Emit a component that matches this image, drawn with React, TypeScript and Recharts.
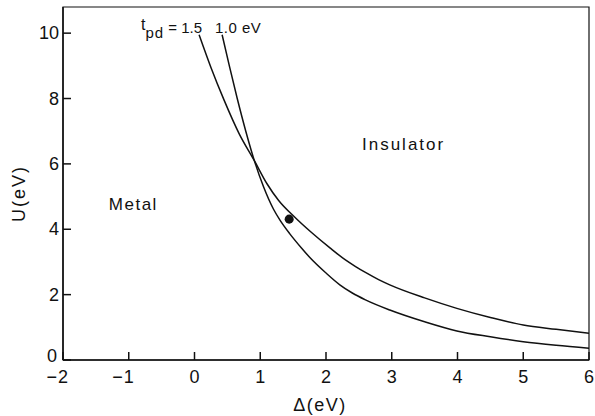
import { ComposedChart, Line, Scatter, XAxis, YAxis, ReferenceDot, ReferenceArea, Label } from "recharts";

// phase boundary U(Δ) for two hopping values, eV
const tpd15 = [
  { d: 0.07, u: 9.95 }, { d: 0.25, u: 8.95 }, { d: 0.45, u: 7.95 }, { d: 0.68, u: 6.92 },
  { d: 0.91, u: 6.1 }, { d: 1.1, u: 5.4 }, { d: 1.28, u: 4.88 }, { d: 1.53, u: 4.36 },
  { d: 1.78, u: 3.9 }, { d: 2.06, u: 3.43 }, { d: 2.29, u: 3.07 }, { d: 2.45, u: 2.86 },
  { d: 2.6, u: 2.68 }, { d: 2.8, u: 2.46 }, { d: 2.97, u: 2.3 }, { d: 3.5, u: 1.9 },
  { d: 3.99, u: 1.58 }, { d: 4.5, u: 1.3 }, { d: 5.0, u: 1.07 }, { d: 5.5, u: 0.94 },
  { d: 6.0, u: 0.82 },
];
const tpd10 = [
  { d: 0.42, u: 9.95 }, { d: 0.53, u: 9.0 }, { d: 0.65, u: 8.0 }, { d: 0.78, u: 7.0 },
  { d: 0.91, u: 6.1 }, { d: 1.05, u: 5.3 }, { d: 1.2, u: 4.62 }, { d: 1.3, u: 4.28 },
  { d: 1.45, u: 3.86 }, { d: 1.63, u: 3.42 }, { d: 1.78, u: 3.08 }, { d: 2.0, u: 2.66 },
  { d: 2.21, u: 2.3 }, { d: 2.4, u: 2.05 }, { d: 2.6, u: 1.84 }, { d: 2.97, u: 1.53 },
  { d: 3.5, u: 1.17 }, { d: 3.99, u: 0.89 }, { d: 4.5, u: 0.71 }, { d: 5.0, u: 0.56 },
  { d: 5.5, u: 0.45 }, { d: 6.0, u: 0.36 },
];
const sample = [{ d: 1.44, u: 4.31 }];

const xTicks = [-2, -1, 0, 1, 2, 3, 4, 5, 6];
const yTicks = [0, 2, 4, 6, 8, 10];
const xDomain = [-2, 6];
const yDomain = [0, 10.8];

const ink = "#111";
const font = "'Liberation Sans', Arial, sans-serif";

function XTick({ x, y, payload }: any) {
  const v = payload.value as number;
  return (
    <g>
      {v < 0 && (
        <text x={x - 6} y={y} dy={13} textAnchor="end" fontSize={18} fill={ink} fontFamily={font}>
          −
        </text>
      )}
      <text x={x} y={y} dy={13} textAnchor="middle" fontSize={18} fill={ink} fontFamily={font}>
        {Math.abs(v)}
      </text>
    </g>
  );
}

function YTick({ x, y, payload }: any) {
  // the zero label sits a little higher so it clears the x tick label below
  const lift = payload.value === 0 ? -4 : 0;
  return (
    <text x={x - (payload.value === 0 ? 2 : 0)} y={y + lift} dy={6} textAnchor="end" fontSize={18} fill={ink} fontFamily={font}>
      {payload.value}
    </text>
  );
}

function Note({ cx, cy, children, anchor = "middle", size = 17, spacing = 1.5 }: any) {
  return (
    <text x={cx} y={cy} textAnchor={anchor} fontSize={size} letterSpacing={spacing} fill={ink} fontFamily={font}>
      {children}
    </text>
  );
}

export default function App() {
  return (
    <div style={{ position: "absolute", left: 0, top: 0, background: "#fff" }}>
      <ComposedChart width={595} height={416} margin={{ top: 7, right: 6, bottom: 0, left: 0 }}>
        <XAxis
          dataKey="d"
          type="number"
          domain={xDomain}
          ticks={xTicks}
          allowDataOverflow
          height={56}
          stroke={ink}
          strokeWidth={1.5}
          tickSize={-8}
          tickMargin={18}
          tick={<XTick />}
        >
          <Label
            content={({ viewBox }: any) => (
              <text
                x={viewBox.x + viewBox.width / 2 - 6}
                y={viewBox.y + 51}
                textAnchor="middle"
                fontSize={18}
                letterSpacing={1.5}
                fill={ink}
                fontFamily={font}
              >
                Δ(eV)
              </text>
            )}
          />
        </XAxis>
        <YAxis
          dataKey="u"
          type="number"
          domain={yDomain}
          ticks={yTicks}
          allowDataOverflow
          width={63}
          stroke={ink}
          strokeWidth={1.5}
          tickSize={-8}
          tickMargin={12}
          tick={<YTick />}
        >
          <Label
            content={({ viewBox }: any) => {
              const cx = 25;
              const cy = viewBox.y + viewBox.height / 2 + 10;
              return (
                <text
                  x={cx}
                  y={cy}
                  transform={`rotate(-90, ${cx}, ${cy})`}
                  textAnchor="middle"
                  fontSize={18}
                  letterSpacing={2}
                  fill={ink}
                  fontFamily={font}
                >
                  U(eV)
                </text>
              );
            }}
          />
        </YAxis>
        <ReferenceArea x1={-2} x2={6} y1={0} y2={10.8} fill="none" stroke={ink} strokeWidth={1.2} />
        <Line data={tpd15} dataKey="u" type="monotone" stroke={ink} strokeWidth={1.5} dot={false} isAnimationActive={false} />
        <Line data={tpd10} dataKey="u" type="monotone" stroke={ink} strokeWidth={1.5} dot={false} isAnimationActive={false} />
        <Scatter data={sample} dataKey="u" fill={ink} shape="circle" isAnimationActive={false} />
        <ReferenceDot x={-0.93} y={4.59} r={0} shape={(p: any) => <Note cx={p.cx} cy={p.cy}>Metal</Note>} />
        <ReferenceDot x={3.18} y={6.42} r={0} shape={(p: any) => <Note cx={p.cx} cy={p.cy} spacing={2}>Insulator</Note>} />
        <ReferenceDot
          x={0.115}
          y={10}
          r={0}
          shape={(p: any) => (
            <text x={p.cx} y={p.cy} textAnchor="end" fontSize={15} fill={ink} fontFamily={font}>
              <tspan fontSize={16} dy={-3}>t</tspan>
              <tspan fontSize={15} dy={8} letterSpacing={1}>pd</tspan>
              <tspan dy={-5}> = 1.5</tspan>
            </text>
          )}
        />
        <ReferenceDot
          x={0.31}
          y={10}
          r={0}
          shape={(p: any) => (
            <text x={p.cx} y={p.cy} textAnchor="start" fontSize={15} letterSpacing={0.5} fill={ink} fontFamily={font}>
              1.0 eV
            </text>
          )}
        />
      </ComposedChart>
    </div>
  );
}
